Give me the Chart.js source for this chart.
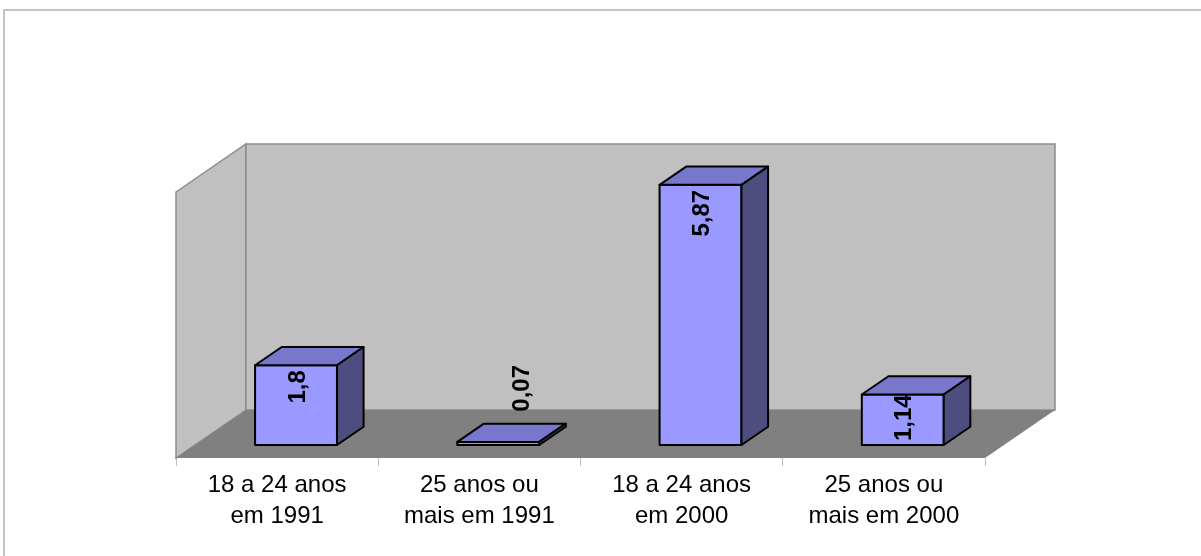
<!DOCTYPE html>
<html>
<head>
<meta charset="utf-8">
<script src="https://cdn.jsdelivr.net/npm/chart.js@4.4.1/dist/chart.umd.min.js"></script>
<style>
html,body{margin:0;padding:0;background:#fff;overflow:hidden}
#wrap{width:1201px;height:556px;position:relative}
</style>
</head>
<body>
<div id="wrap"><canvas id="c" width="1201" height="556"></canvas></div>
<script>
// ---- data ----
const categories = [
  ["18 a 24 anos", "em 1991"],
  ["25 anos ou", "mais em 1991"],
  ["18 a 24 anos", "em 2000"],
  ["25 anos ou", "mais em 2000"]
];
const values = [1.8, 0.07, 5.87, 1.14];
const valueLabels = ["1,8", "0,07", "5,87", "1,14"];
const axisMin = 0;
const axisMax = 6;

// ---- 3D look ----
const DX = 70, DY = 48;          // depth offset of the back plane
const Z0 = 0.27, Z1 = 0.65;      // bar depth range (fraction of full depth)
const FONT = "'Liberation Sans', Arial, sans-serif";

const frame3d = {
  id: 'frame3d',
  beforeDraw(chart) {
    const ctx = chart.ctx;
    ctx.save();
    ctx.strokeStyle = '#c4c4c4';
    ctx.lineWidth = 2;
    ctx.strokeRect(4, 10, 1400, 800);
    ctx.restore();
  },
  beforeDatasetsDraw(chart) {
    const ctx = chart.ctx;
    const { left, right, top, bottom } = chart.chartArea;
    ctx.save();
    // left wall
    ctx.beginPath();
    ctx.moveTo(left, top);
    ctx.lineTo(left + DX, top - DY);
    ctx.lineTo(left + DX, bottom - DY);
    ctx.lineTo(left, bottom);
    ctx.closePath();
    ctx.fillStyle = '#c0c0c0';
    ctx.fill();
    ctx.strokeStyle = '#8c8c8c';
    ctx.lineWidth = 1.5;
    ctx.stroke();
    // back wall
    ctx.beginPath();
    ctx.moveTo(left + DX, top - DY);
    ctx.lineTo(right + DX, top - DY);
    ctx.lineTo(right + DX, bottom - DY);
    ctx.lineTo(left + DX, bottom - DY);
    ctx.closePath();
    ctx.fillStyle = '#c0c0c0';
    ctx.fill();
    ctx.stroke();
    // floor
    ctx.beginPath();
    ctx.moveTo(left, bottom);
    ctx.lineTo(right, bottom);
    ctx.lineTo(right + DX, bottom - DY);
    ctx.lineTo(left + DX, bottom - DY);
    ctx.closePath();
    ctx.fillStyle = '#808080';
    ctx.fill();
    ctx.restore();
  },
  afterDatasetsDraw(chart) {
    const ctx = chart.ctx;
    const meta = chart.getDatasetMeta(0);
    const ox = DX * (Z1 - Z0), oy = DY * (Z1 - Z0);
    ctx.save();
    ctx.lineJoin = 'round';
    ctx.lineWidth = 2;
    ctx.strokeStyle = '#000';
    meta.data.forEach((el, i) => {
      const p = el.getProps(['x', 'y', 'base', 'width'], true);
      const x0 = p.x - p.width / 2 + DX * Z0;
      const x1 = p.x + p.width / 2 + DX * Z0;
      const yT = p.y - DY * Z0;
      const yB = p.base - DY * Z0;
      // front
      ctx.beginPath();
      ctx.rect(x0, yT, x1 - x0, yB - yT);
      ctx.fillStyle = '#9999ff';
      ctx.fill(); ctx.stroke();
      // top
      ctx.beginPath();
      ctx.moveTo(x0, yT); ctx.lineTo(x1, yT);
      ctx.lineTo(x1 + ox, yT - oy); ctx.lineTo(x0 + ox, yT - oy);
      ctx.closePath();
      ctx.fillStyle = '#7777cc';
      ctx.fill(); ctx.stroke();
      // side
      ctx.beginPath();
      ctx.moveTo(x1, yT); ctx.lineTo(x1 + ox, yT - oy);
      ctx.lineTo(x1 + ox, yB - oy); ctx.lineTo(x1, yB);
      ctx.closePath();
      ctx.fillStyle = '#4d4d80';
      ctx.fill(); ctx.stroke();

      // value label (rotated)
      const txt = valueLabels[i];
      ctx.save();
      ctx.font = 'bold 24px ' + FONT;
      ctx.fillStyle = '#000';
      ctx.textBaseline = 'middle';
      const len = ctx.measureText(txt).width;
      const h = yB - yT;
      if (h >= len * 0.8) {
        let end = yT + 5;
        if (end + len > yB - 4) end = yB - 4 - len;
        ctx.translate((x0 + x1) / 2 + 2, end);
        ctx.rotate(-Math.PI / 2);
        ctx.textAlign = 'right';
        ctx.fillText(txt, 0, 0);
      } else {
        const cx = (x0 + x1) / 2 + ox - 3;
        const start = yT - oy - 12;
        ctx.translate(cx, start);
        ctx.rotate(-Math.PI / 2);
        ctx.textAlign = 'left';
        ctx.fillText(txt, 0, 0);
      }
      ctx.restore();
    });
    ctx.restore();
  }
};

new Chart(document.getElementById('c'), {
  type: 'bar',
  data: {
    labels: categories,
    datasets: [{
      data: values,
      backgroundColor: 'rgba(0,0,0,0)',
      borderWidth: 0,
      barPercentage: 0.405,
      categoryPercentage: 1
    }]
  },
  options: {
    responsive: false,
    animation: false,
    devicePixelRatio: 1,
    layout: { padding: { left: 176, right: 216, top: 192, bottom: 0 } },
    plugins: { legend: { display: false }, tooltip: { enabled: false } },
    scales: {
      x: {
        grid: { display: true, drawOnChartArea: false, drawTicks: true, tickLength: 8, color: '#bfbfbf', lineWidth: 1, offset: true },
        border: { display: false },
        ticks: { color: '#000', font: { family: FONT, size: 24, lineHeight: 1.3 }, padding: 4, maxRotation: 0, autoSkip: false },
        afterFit(s) { s.height = 98; }
      },
      y: { display: false, min: axisMin, max: axisMax }
    }
  },
  plugins: [frame3d]
});
</script>
</body>
</html>
